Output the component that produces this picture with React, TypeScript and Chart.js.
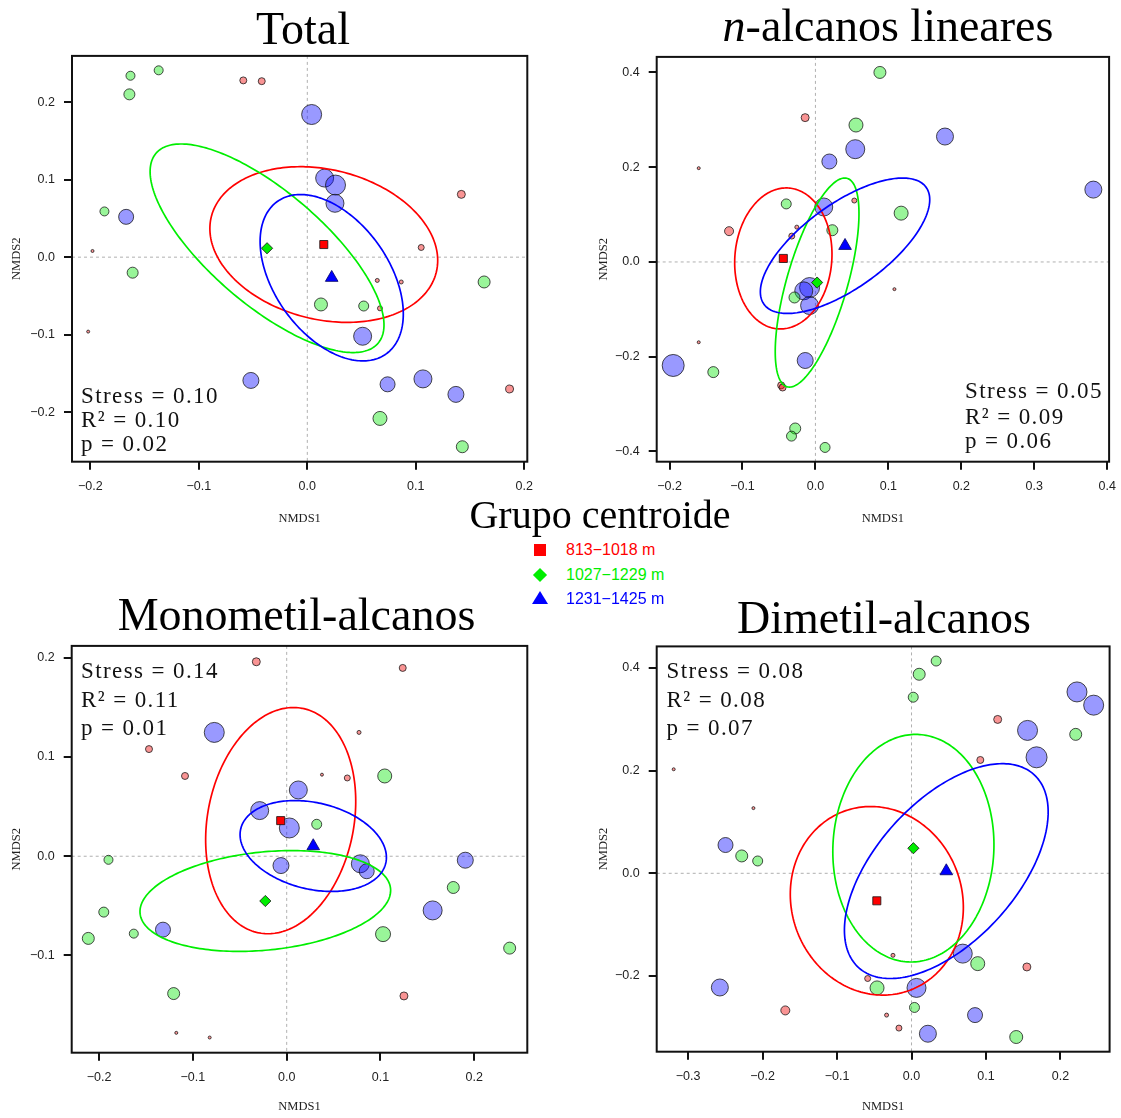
import React, { useEffect, useRef } from 'react';
import { Chart, registerables } from 'chart.js';

Chart.register(...registerables);

type Pt = [number, number, number]; // x, y, radius
type XY = [number, number];
type Shape = [number, number, number]; // half-width x, half-height y, correlation

// ---------------- DATA ----------------
// Panel 1: Total
const totalRed: Pt[] = [
  [-0.059, 0.228, 3.5], [-0.042, 0.227, 3.5], [-0.198, 0.008, 1.5], [-0.202, -0.096, 1.5],
  [0.142, 0.081, 4], [0.105, 0.0125, 3], [0.0645, -0.030, 2], [0.0866, -0.032, 2],
  [0.067, -0.066, 2.5], [0.1865, -0.170, 4],
];
const totalGreen: Pt[] = [
  [-0.163, 0.234, 4.5], [-0.137, 0.241, 4.5], [-0.164, 0.210, 5.5], [-0.187, 0.059, 4.5],
  [-0.161, -0.020, 5.5], [0.0126, -0.061, 6.5], [0.052, -0.063, 5], [0.163, -0.032, 6],
  [0.067, -0.208, 7], [0.1429, -0.2445, 6],
];
const totalBlue: Pt[] = [
  [-0.167, 0.052, 7.5], [-0.052, -0.159, 8], [0.004, 0.184, 10], [0.016, 0.102, 9],
  [0.026, 0.093, 10], [0.0255, 0.0695, 9], [0.051, -0.102, 9], [0.074, -0.164, 7.5],
  [0.1066, -0.157, 9], [0.137, -0.177, 8],
];
const totalCentroids: XY[] = [[0.0152, 0.0163], [-0.0371, 0.0115], [0.0225, -0.0265]];
const totalShapes: Shape[] = [[0.105, 0.1004, -0.205], [0.1078, 0.1345, -0.735], [0.066, 0.1073, -0.435]];
const totalStats = ['Stress = 0.10', 'R² = 0.10', 'p = 0.02'];
const totalXTicks = [-0.2, -0.1, 0, 0.1, 0.2];
const totalXLabels = ['−0.2', '−0.1', '0.0', '0.1', '0.2'];
const totalYTicks = [-0.2, -0.1, 0, 0.1, 0.2];
const totalYLabels = ['−0.2', '−0.1', '0.0', '0.1', '0.2'];
const totalXRange: XY = [-0.2169, 0.2028];
const totalYRange: XY = [-0.2638, 0.2596];

// Panel 2: n-alcanos lineares
const linRed: Pt[] = [
  [-0.0141, 0.3046, 4], [-0.160, 0.198, 1.5], [0.0533, 0.1296, 2.5], [-0.1184, 0.065, 4.5],
  [-0.0255, 0.0735, 2], [-0.0324, 0.0546, 3], [-0.160, -0.1695, 1.5], [-0.047, -0.2605, 3.5],
  [-0.045, -0.265, 3.5], [0.1083, -0.0574, 1.5],
];
const linGreen: Pt[] = [
  [0.0556, 0.289, 7], [-0.040, 0.1225, 5], [0.0232, 0.067, 5.5], [-0.0287, -0.075, 5.5],
  [-0.140, -0.2325, 5.5], [-0.0277, -0.3515, 5.5], [-0.0328, -0.3676, 5], [0.0132, -0.3915, 5],
  [0.0884, 0.400, 6], [0.1175, 0.103, 7],
];
const linBlue: Pt[] = [
  [0.0546, 0.238, 9.5], [0.0191, 0.212, 7.5], [0.0114, 0.116, 9], [-0.008, -0.054, 10],
  [-0.016, -0.061, 9], [-0.008, -0.092, 9], [-0.195, -0.2185, 11], [-0.014, -0.208, 8],
  [0.1776, 0.2647, 8.5], [0.381, 0.1527, 8.5],
];
const linCentroids: XY[] = [[-0.044, 0.0074], [0.0023, -0.0435], [0.0406, 0.0342]];
const linShapes: Shape[] = [[0.0667, 0.1488, 0.06], [0.0574, 0.2206, 0.66], [0.1161, 0.1429, 0.68]];
const linStats = ['Stress = 0.05', 'R² = 0.09', 'p = 0.06'];
const linXTicks = [-0.2, -0.1, 0, 0.1, 0.2, 0.3, 0.4];
const linXLabels = ['−0.2', '−0.1', '0.0', '0.1', '0.2', '0.3', '0.4'];
const linYTicks = [-0.4, -0.2, 0, 0.2, 0.4];
const linYLabels = ['−0.4', '−0.2', '0.0', '0.2', '0.4'];
const linXRange: XY = [-0.2176, 0.4026];
const linYRange: XY = [-0.4216, 0.4328];

// Panel 3: Monometil-alcanos
const monoRed: Pt[] = [
  [-0.0324, 0.196, 4], [-0.1468, 0.108, 3.5], [-0.1084, 0.0809, 3.5], [-0.1177, -0.178, 1.5],
  [-0.0821, -0.1827, 1.5], [0.1237, 0.1898, 3.5], [0.0771, 0.1248, 2], [0.0376, 0.0822, 1.5],
  [0.0646, 0.0789, 3], [0.125, -0.1408, 4],
];
const monoGreen: Pt[] = [
  [-0.190, -0.0036, 4.5], [-0.195, -0.0563, 5], [-0.163, -0.078, 4.5], [-0.2115, -0.0828, 6],
  [-0.1205, -0.1384, 6], [0.1045, 0.0809, 7], [0.032, 0.0322, 5], [0.1776, -0.0315, 6],
  [0.1027, -0.0785, 7.5], [0.2377, -0.0926, 6],
];
const monoBlue: Pt[] = [
  [-0.0772, 0.1248, 10], [0.0124, 0.0668, 9], [-0.0288, 0.046, 9], [0.0028, 0.0285, 10],
  [-0.0061, -0.0094, 8], [-0.1319, -0.074, 7.5], [0.0785, -0.0076, 9], [0.0853, -0.0151, 7.5],
  [0.1904, -0.004, 8], [0.1556, -0.0546, 9.5],
];
const monoCentroids: XY[] = [[-0.0064, 0.0359], [-0.0228, -0.0451], [0.0283, 0.0103]];
const monoShapes: Shape[] = [[0.08, 0.114, 0.17], [0.1336, 0.0508, 0.21], [0.078, 0.0458, -0.25]];
const monoStats = ['Stress = 0.14', 'R² = 0.11', 'p = 0.01'];
const monoXTicks = [-0.2, -0.1, 0, 0.1, 0.2];
const monoXLabels = ['−0.2', '−0.1', '0.0', '0.1', '0.2'];
const monoYTicks = [-0.1, 0, 0.1, 0.2];
const monoYLabels = ['−0.1', '0.0', '0.1', '0.2'];
const monoXRange: XY = [-0.2292, 0.2565];
const monoYRange: XY = [-0.198, 0.212];

// Panel 4: Dimetil-alcanos
const diRed: Pt[] = [
  [-0.3194, 0.2027, 1.5], [-0.2123, 0.127, 1.5], [-0.1695, -0.2672, 4.5], [-0.0589, -0.205, 3],
  [0.1157, 0.2998, 4], [0.0924, 0.2208, 3.5], [-0.0249, -0.1598, 2], [0.1549, -0.1825, 4],
  [-0.0335, -0.2763, 2], [-0.0169, -0.3016, 3],
];
const diGreen: Pt[] = [
  [-0.228, 0.0338, 6], [-0.2066, 0.024, 5], [0.0331, 0.4136, 5], [0.0103, 0.3878, 6],
  [0.0023, 0.3431, 5], [0.2205, 0.2707, 6], [0.0889, -0.176, 7], [-0.0463, -0.2233, 7],
  [0.004, -0.2614, 5], [0.1406, -0.319, 6.5],
];
const diBlue: Pt[] = [
  [-0.2498, 0.0551, 7.5], [-0.2574, -0.2225, 8.5], [0.2222, 0.3534, 10], [0.2446, 0.3276, 10],
  [0.1558, 0.2784, 10], [0.1679, 0.226, 10.5], [0.0688, -0.1565, 9.5], [0.0067, -0.2233, 9.5],
  [0.0220, -0.3126, 8.5], [0.0853, -0.2763, 7.5],
];
const diCentroids: XY[] = [[-0.0466, -0.0536], [0.0025, 0.0489], [0.0467, 0.0043]];
const diShapes: Shape[] = [[0.1162, 0.1837, -0.07], [0.1082, 0.2217, 0.03], [0.1368, 0.2093, 0.55]];
const diStats = ['Stress = 0.08', 'R² = 0.08', 'p = 0.07'];
const diXTicks = [-0.3, -0.2, -0.1, 0, 0.1, 0.2];
const diXLabels = ['−0.3', '−0.2', '−0.1', '0.0', '0.1', '0.2'];
const diYTicks = [-0.2, 0, 0.2, 0.4];
const diYLabels = ['−0.2', '0.0', '0.2', '0.4'];
const diXRange: XY = [-0.3422, 0.266];
const diYRange: XY = [-0.3476, 0.4421];

const legendTitle = 'Grupo centroide';
const groupNames = ['813−1018 m', '1027−1229 m', '1231−1425 m'];

// ---------------- STYLE ----------------
const GROUP_LINE = ['#FF0000', '#00EE00', '#0000FF'];
const GROUP_FILL = ['rgba(240,0,0,0.42)', 'rgba(0,230,0,0.4)', 'rgba(0,0,255,0.4)'];
const CENTROID_FILL = ['#FF0000', '#00EE00', '#0000FF'];
const CENTROID_STYLE = ['rect', 'rectRot', 'triangle'];
const CENTROID_RADIUS = [5.7, 5.6, 7.3];
const SANS = "'Liberation Sans', Arial, Helvetica, sans-serif";
const SERIF = "'Liberation Serif', 'Times New Roman', Times, serif";

interface PanelData {
  key: string;
  groups: Pt[][];
  centroids: XY[];
  shapes: Shape[];
  xTicks: number[]; xLabels: string[];
  yTicks: number[]; yLabels: string[];
  xRange: XY; yRange: XY;
}
interface Layout {
  canvas: { left: number; top: number; w: number; h: number };
  area: { l: number; t: number; r: number; b: number };
  xTitleY: number;
  yTitleX: number;
}

const panels: { d: PanelData; lay: Layout; title: React.ReactNode; titleX: number; titleBase: number; stats: string[]; statsX: number; statsY: number[] }[] = [
  {
    d: { key: 'total', groups: [totalRed, totalGreen, totalBlue], centroids: totalCentroids, shapes: totalShapes, xTicks: totalXTicks, xLabels: totalXLabels, yTicks: totalYTicks, yLabels: totalYLabels, xRange: totalXRange, yRange: totalYRange },
    lay: { canvas: { left: 0, top: 45, w: 560, h: 495 }, area: { l: 72, t: 55, r: 527.3, b: 461.7 }, xTitleY: 519, yTitleX: 17 },
    title: 'Total', titleX: 303, titleBase: 45, stats: totalStats, statsX: 81, statsY: [395, 419, 443],
  },
  {
    d: { key: 'lin', groups: [linRed, linGreen, linBlue], centroids: linCentroids, shapes: linShapes, xTicks: linXTicks, xLabels: linXLabels, yTicks: linYTicks, yLabels: linYLabels, xRange: linXRange, yRange: linYRange },
    lay: { canvas: { left: 590, top: 45, w: 531, h: 495 }, area: { l: 656.7, t: 55, r: 1110.7, b: 461.7 }, xTitleY: 519, yTitleX: 604 },
    title: <><i>n</i>-alcanos lineares</>, titleX: 888, titleBase: 42, stats: linStats, statsX: 965, statsY: [390, 416, 440],
  },
  {
    d: { key: 'mono', groups: [monoRed, monoGreen, monoBlue], centroids: monoCentroids, shapes: monoShapes, xTicks: monoXTicks, xLabels: monoXLabels, yTicks: monoYTicks, yLabels: monoYLabels, xRange: monoXRange, yRange: monoYRange },
    lay: { canvas: { left: 0, top: 635, w: 560, h: 483 }, area: { l: 71.7, t: 645, r: 527.3, b: 1052.7 }, xTitleY: 1107, yTitleX: 17 },
    title: 'Monometil-alcanos', titleX: 296.5, titleBase: 631, stats: monoStats, statsX: 81, statsY: [670.5, 699, 727.5],
  },
  {
    d: { key: 'di', groups: [diRed, diGreen, diBlue], centroids: diCentroids, shapes: diShapes, xTicks: diXTicks, xLabels: diXLabels, yTicks: diYTicks, yLabels: diYLabels, xRange: diXRange, yRange: diYRange },
    lay: { canvas: { left: 590, top: 635, w: 531, h: 483 }, area: { l: 656.7, t: 645, r: 1111, b: 1051.7 }, xTitleY: 1107, yTitleX: 604 },
    title: 'Dimetil-alcanos', titleX: 884, titleBase: 634, stats: diStats, statsX: 666.5, statsY: [670.5, 699, 727.5],
  },
];

function makeConfig(d: PanelData, lay: Layout): any {
  const tickFont = { family: SANS, size: 12.5 };
  const titleFont = { family: SERIF, size: 12.5, lineHeight: 1.2 };
  const lh = 12.5 * 1.2;
  const c = lay.canvas;
  const zeroPad = (s: any) => { s.paddingTop = 0; s.paddingBottom = 0; s.paddingLeft = 0; s.paddingRight = 0; };
  const plugin = {
    id: 'nmds_' + d.key,
    beforeDatasetsDraw(chart: any) {
      const { ctx, chartArea: a, scales } = chart;
      const px = scales.x.getPixelForValue(0);
      const py = scales.y.getPixelForValue(0);
      ctx.save();
      ctx.beginPath();
      ctx.rect(a.left, a.top, a.right - a.left, a.bottom - a.top);
      ctx.clip();
      ctx.strokeStyle = '#b0b0b0';
      ctx.lineWidth = 1;
      ctx.setLineDash([3, 3]);
      ctx.beginPath();
      ctx.moveTo(px, a.top); ctx.lineTo(px, a.bottom);
      ctx.moveTo(a.left, py); ctx.lineTo(a.right, py);
      ctx.stroke();
      ctx.restore();
    },
    afterDatasetDraw(chart: any, args: any) {
      if (args.index !== 0) return;
      const { ctx, scales } = chart;
      ctx.save();
      ctx.lineWidth = 1.7;
      d.shapes.forEach((s, g) => {
        const [cx, cy] = d.centroids[g];
        const [hx, hy, rho] = s;
        const ph = Math.acos(rho);
        ctx.strokeStyle = GROUP_LINE[g];
        ctx.beginPath();
        const n = 240;
        for (let i = 0; i <= n; i++) {
          const t = (i / n) * Math.PI * 2;
          const X = scales.x.getPixelForValue(cx + hx * Math.cos(t));
          const Y = scales.y.getPixelForValue(cy + hy * Math.cos(t + ph));
          if (i === 0) ctx.moveTo(X, Y); else ctx.lineTo(X, Y);
        }
        ctx.closePath();
        ctx.stroke();
      });
      ctx.restore();
    },
    afterDraw(chart: any) {
      const { ctx, chartArea: a } = chart;
      ctx.save();
      ctx.strokeStyle = '#111';
      ctx.lineWidth = 2;
      ctx.strokeRect(a.left, a.top, a.right - a.left, a.bottom - a.top);
      ctx.restore();
    },
  };

  const pointSets = d.groups.map((pts, g) => ({
    data: pts.map((p) => ({ x: p[0], y: p[1] })),
    pointRadius: pts.map((p) => p[2]),
    pointHoverRadius: pts.map((p) => p[2]),
    backgroundColor: GROUP_FILL[g],
    borderColor: 'rgba(20,20,20,0.85)',
    borderWidth: 0.9,
    pointStyle: 'circle',
    order: 1,
  }));
  const centroidSets = d.centroids.map((p, g) => ({
    data: [{ x: p[0], y: p[1] }],
    pointRadius: CENTROID_RADIUS[g],
    pointHoverRadius: CENTROID_RADIUS[g],
    backgroundColor: CENTROID_FILL[g],
    borderColor: g === 2 ? '#000066' : '#111',
    borderWidth: 0.8,
    pointStyle: CENTROID_STYLE[g],
    order: 0,
  }));

  return {
    type: 'scatter',
    data: { datasets: [...pointSets, ...centroidSets] },
    plugins: [plugin],
    options: {
      responsive: false,
      animation: false,
      events: [],
      devicePixelRatio: 1,
      layout: { padding: { left: 0, top: lay.area.t - c.top, right: c.left + c.w - lay.area.r, bottom: 0 } },
      plugins: { legend: { display: false }, tooltip: { enabled: false }, title: { display: false } },
      scales: {
        x: {
          type: 'linear',
          min: d.xRange[0],
          max: d.xRange[1],
          afterBuildTicks: (s: any) => { s.ticks = d.xTicks.map((v) => ({ value: v })); },
          afterFit: (s: any) => { s.height = c.top + c.h - lay.area.b; zeroPad(s); },
          ticks: { callback: (_v: any, i: number) => d.xLabels[i], font: tickFont, color: '#222', padding: 9.5, autoSkip: false, maxRotation: 0, minRotation: 0 },
          grid: { display: true, drawOnChartArea: false, drawTicks: true, tickLength: 8, lineWidth: 2, color: '#111' },
          border: { display: false },
          title: { display: true, text: 'NMDS1', font: titleFont, color: '#222', padding: { top: 0, bottom: c.top + c.h - lay.xTitleY - lh / 2 } },
        },
        y: {
          type: 'linear',
          min: d.yRange[0],
          max: d.yRange[1],
          afterBuildTicks: (s: any) => { s.ticks = d.yTicks.map((v) => ({ value: v })); },
          afterFit: (s: any) => { s.width = lay.area.l - c.left; zeroPad(s); },
          ticks: { callback: (_v: any, i: number) => d.yLabels[i], font: tickFont, color: '#222', padding: 9, autoSkip: false },
          grid: { display: true, drawOnChartArea: false, drawTicks: true, tickLength: 8, lineWidth: 2, color: '#111' },
          border: { display: false },
          title: { display: true, text: 'NMDS2', font: titleFont, color: '#222', padding: { top: lay.yTitleX - c.left - lh / 2, bottom: 0 } },
        },
      },
    },
  };
}

function PanelChart({ d, lay }: { d: PanelData; lay: Layout }) {
  const ref = useRef<HTMLCanvasElement | null>(null);
  useEffect(() => {
    if (!ref.current) return;
    const chart = new Chart(ref.current, makeConfig(d, lay));
    return () => chart.destroy();
  }, []);
  const c = lay.canvas;
  return (
    <canvas
      ref={ref}
      width={c.w}
      height={c.h}
      style={{ position: 'absolute', left: c.left, top: c.top, width: c.w, height: c.h }}
    />
  );
}

const TITLE_SIZE = 46;

export default function App() {
  return (
    <div style={{ position: 'absolute', left: 0, top: 0, width: 1121, height: 1118, background: '#fff', overflow: 'hidden' }}>
      {panels.map((p) => (
        <PanelChart key={p.d.key} d={p.d} lay={p.lay} />
      ))}
      {panels.map((p) => (
        <div
          key={p.d.key + '_t'}
          style={{
            position: 'absolute', left: p.titleX - 300, width: 600, textAlign: 'center',
            top: p.titleBase - 0.8375 * TITLE_SIZE, fontFamily: SERIF, fontSize: TITLE_SIZE,
            lineHeight: TITLE_SIZE + 'px', color: '#000', whiteSpace: 'nowrap',
          }}
        >
          {p.title}
        </div>
      ))}
      {panels.map((p) =>
        p.stats.map((s, i) => (
          <div
            key={p.d.key + '_s' + i}
            style={{
              position: 'absolute', left: p.statsX, top: p.statsY[i] - 11.5, fontFamily: SERIF,
              fontSize: 23, lineHeight: '23px', letterSpacing: '1.4px', color: '#111', whiteSpace: 'nowrap',
            }}
          >
            {s}
          </div>
        ))
      )}
      <div
        style={{
          position: 'absolute', left: 300, width: 600, textAlign: 'center', top: 528 - 0.8375 * 40,
          fontFamily: SERIF, fontSize: 40, lineHeight: '40px', color: '#000',
        }}
      >
        {legendTitle}
      </div>
      {groupNames.map((name, g) => {
        const cy = [550, 574.5, 598.5][g];
        let sym: React.ReactNode;
        if (g === 0) sym = <div style={{ position: 'absolute', left: 534, top: cy - 6, width: 12, height: 12, background: CENTROID_FILL[0] }} />;
        else if (g === 1) sym = <div style={{ position: 'absolute', left: 535, top: cy - 5, width: 10, height: 10, background: CENTROID_FILL[1], transform: 'rotate(45deg)' }} />;
        else sym = <div style={{ position: 'absolute', left: 532, top: cy - 7.5, width: 0, height: 0, borderLeft: '8px solid transparent', borderRight: '8px solid transparent', borderBottom: '13px solid ' + CENTROID_FILL[2] }} />;
        return (
          <React.Fragment key={name}>
            {sym}
            <div style={{ position: 'absolute', left: 566, top: cy - 9, fontFamily: SANS, fontSize: 16, lineHeight: '18px', color: GROUP_LINE[g], whiteSpace: 'nowrap' }}>
              {name}
            </div>
          </React.Fragment>
        );
      })}
    </div>
  );
}
